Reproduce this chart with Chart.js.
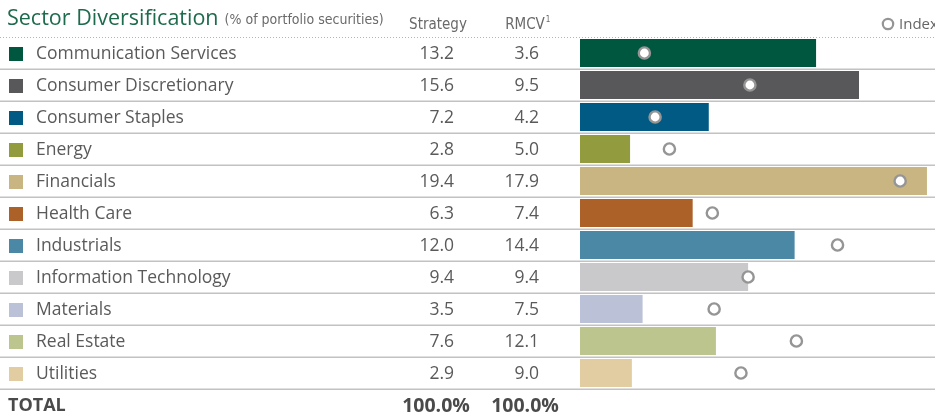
<!DOCTYPE html>
<html>
<head>
<meta charset="utf-8">
<script src="https://cdn.jsdelivr.net/npm/chart.js@4/dist/chart.umd.min.js"></script>
<style>
    html, body { margin: 0; padding: 0; background: #fff; }
    #wrap { position: relative; width: 935px; height: 412px; }
</style>
</head>
<body>
<div id="wrap"><canvas id="sector-chart" width="935" height="412"></canvas></div>
<script>
// データ
const sectors = ['Communication Services', 'Consumer Discretionary', 'Consumer Staples', 'Energy', 'Financials',
    'Health Care', 'Industrials', 'Information Technology', 'Materials', 'Real Estate', 'Utilities'];
const strategyValues = [13.2, 15.6, 7.2, 2.8, 19.4, 6.3, 12.0, 9.4, 3.5, 7.6, 2.9];
const indexValues = [3.6, 9.5, 4.2, 5.0, 17.9, 7.4, 14.4, 9.4, 7.5, 12.1, 9.0];
const sectorColors = ['#00573f', '#58585a', '#005a84', '#929b3e', '#c9b581', '#ab6128',
    '#4a88a6', '#c9c9cb', '#bbc1d6', '#bdc58f', '#e2cda2'];
const totals = ['100.0%', '100.0%'];

const FONT = "'Open Sans', 'Noto Sans', sans-serif";
const NARROW = "'Liberation Sans Narrow', 'DejaVu Sans Condensed', sans-serif";

/**
 * 左側の表と罫線を描くプラグイン
 */
const tablePlugin = {
    id: 'sectorTable',
    beforeDatasetsDraw(chart) {
        const ctx = chart.ctx;
        const y = chart.scales.y;
        const W = chart.width;
        const half = 16;

        ctx.save();
        // 上の点線
        ctx.strokeStyle = '#b5b5b5';
        ctx.lineWidth = 1;
        ctx.setLineDash([1, 2]);
        ctx.beginPath();
        ctx.moveTo(0, chart.chartArea.top + 0.5);
        ctx.lineTo(W, chart.chartArea.top + 0.5);
        ctx.stroke();
        ctx.setLineDash([]);

        // 行の区切り線
        ctx.strokeStyle = '#c2c2c2';
        ctx.lineWidth = 1.5;
        sectors.forEach((s, i) => {
            const ly = Math.round(y.getPixelForValue(i) + half) + 0.25;
            ctx.beginPath();
            ctx.moveTo(0, ly);
            ctx.lineTo(W, ly);
            ctx.stroke();
        });
        ctx.restore();
    },
    afterDraw(chart) {
        const ctx = chart.ctx;
        const y = chart.scales.y;
        ctx.save();
        ctx.textBaseline = 'middle';

        // タイトル
        ctx.fillStyle = '#1d6b4c';
        ctx.font = `21.5px ${FONT}`;
        ctx.textAlign = 'left';
        ctx.fillText('Sector Diversification', 7, 19);
        const tw = ctx.measureText('Sector Diversification').width;
        ctx.fillStyle = '#6a6a6a';
        ctx.font = `14px ${NARROW}`;
        ctx.fillText('(% of portfolio securities)', 7 + tw + 6, 20);

        // 列見出し
        ctx.textAlign = 'center';
        ctx.font = `15px ${NARROW}`;
        ctx.fillText('Strategy', 438, 25);
        ctx.fillText('RMCV', 525, 25);
        const rw = ctx.measureText('RMCV').width;
        ctx.font = `8px ${NARROW}`;
        ctx.textAlign = 'left';
        ctx.fillText('1', 525 + rw / 2 + 1, 20);

        // 凡例（Index）
        ctx.strokeStyle = '#959595';
        ctx.lineWidth = 2.2;
        ctx.fillStyle = '#fff';
        ctx.beginPath();
        ctx.arc(888, 24, 5.2, 0, Math.PI * 2);
        ctx.fill();
        ctx.stroke();
        ctx.fillStyle = '#666';
        ctx.font = `15px ${FONT}`;
        ctx.fillText('Index', 899, 25);

        // 各行
        sectors.forEach((s, i) => {
            const cy = y.getPixelForValue(i) + 1;
            ctx.fillStyle = sectorColors[i];
            ctx.fillRect(9, cy - 7, 14, 14);
            ctx.fillStyle = '#5a5a5a';
            ctx.font = `17.5px ${FONT}`;
            ctx.textAlign = 'left';
            ctx.fillText(s, 36, cy);
            ctx.textAlign = 'right';
            ctx.fillText(strategyValues[i].toFixed(1), 454, cy);
            ctx.fillText(indexValues[i].toFixed(1), 539, cy);
        });

        // 合計行
        const ty = y.getPixelForValue(sectors.length - 1) + 33;
        ctx.fillStyle = '#4a4a4a';
        ctx.font = `bold 18px ${FONT}`;
        ctx.textAlign = 'left';
        ctx.fillText('TOTAL', 8, ty);
        ctx.textAlign = 'center';
        ctx.font = `bold 19.5px ${FONT}`;
        ctx.fillText(totals[0], 436, ty);
        ctx.fillText(totals[1], 525, ty);
        ctx.restore();
    }
};

const ctx = document.getElementById('sector-chart').getContext('2d');
const sectorChart = new Chart(ctx, {
    type: 'bar',
    data: {
        labels: sectors,
        datasets: [
            {
                type: 'line',
                label: 'Index',
                data: indexValues,
                indexAxis: 'y',
                showLine: false,
                pointStyle: 'circle',
                pointRadius: 5.6,
                pointBorderWidth: 2.4,
                pointBorderColor: '#959595',
                pointBackgroundColor: '#ffffff',
                order: 0
            },
            {
                label: 'Strategy',
                data: strategyValues,
                backgroundColor: sectorColors,
                borderWidth: 0,
                categoryPercentage: 1.0,
                barPercentage: 0.875,
                order: 1
            }
        ]
    },
    options: {
        indexAxis: 'y',
        responsive: false,
        animation: false,
        events: [],
        layout: {
            autoPadding: false,
            padding: { left: 580, top: 37, right: 0, bottom: 23 }
        },
        plugins: {
            legend: { display: false },
            tooltip: { enabled: false }
        },
        scales: {
            x: { display: false, min: 0, max: 19.85 },
            y: { display: false }
        }
    },
    plugins: [tablePlugin]
});
</script>
</body>
</html>
